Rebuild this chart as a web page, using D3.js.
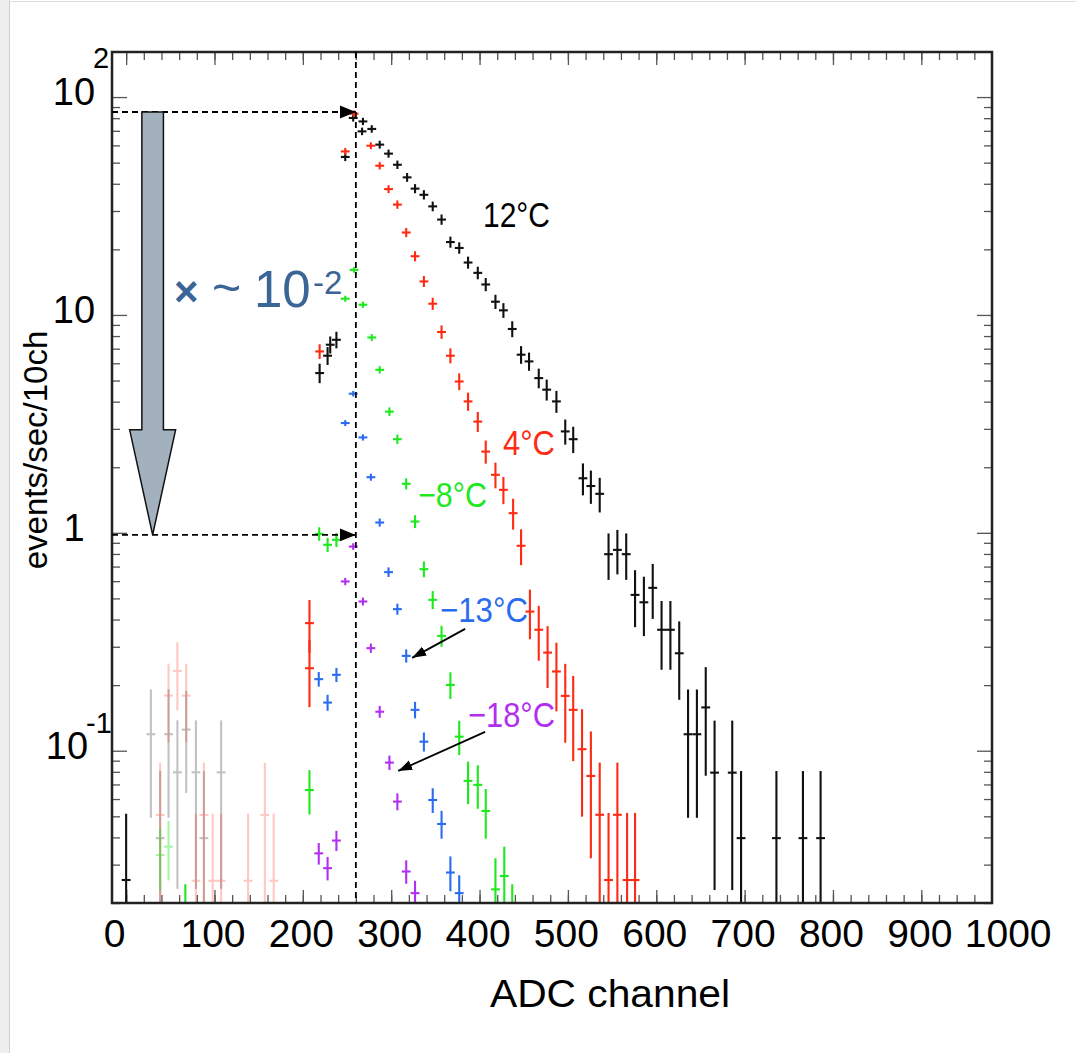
<!DOCTYPE html>
<html>
<head>
<meta charset="utf-8">
<script src="https://cdn.jsdelivr.net/npm/d3@7"></script>
<style>
  body { margin: 0; background: #fff; }
  svg { display: block; }
  text { font-family: "Liberation Sans", Arial, Helvetica, sans-serif; }
</style>
</head>
<body>
<svg width="1076" height="1053"></svg>
<script>
// each point: [ADC channel, events/sec/10ch, error]
var t12 = [
  [0, 0.0255, 0.025], [219, 5.41, 0.47], [228, 6.50, 0.51], [231, 7.30, 0.54], [238, 7.69, 0.55],
  [248, 53.1, 1.46], [257, 80.2, 1.79], [267, 69.6, 1.67], [268, 77.3, 1.76], [278, 71.4, 1.69],
  [287, 60.5, 1.56], [297, 55.0, 1.48], [307, 48.9, 1.40], [318, 42.8, 1.31], [327, 38.0, 1.23],
  [337, 35.6, 1.19], [347, 31.5, 1.12], [357, 27.4, 1.05], [367, 21.6, 0.93], [377, 20.3, 0.90],
  [387, 17.4, 0.83], [398, 15.6, 0.79], [407, 13.8, 0.74], [418, 11.5, 0.68], [427, 10.5, 0.65],
  [437, 8.62, 0.59], [447, 6.57, 0.51], [456, 6.12, 0.49], [467, 5.13, 0.45], [476, 4.54, 0.43],
  [487, 4.01, 0.40], [497, 2.92, 0.34], [506, 2.69, 0.33], [517, 1.78, 0.27], [526, 1.64, 0.26],
  [536, 1.51, 0.25], [546, 0.798, 0.18], [556, 0.835, 0.18], [566, 0.798, 0.18], [576, 0.519, 0.144],
  [586, 0.480, 0.139], [596, 0.559, 0.15], [606, 0.359, 0.12], [616, 0.359, 0.12], [626, 0.280, 0.106],
  [636, 0.119, 0.069], [646, 0.119, 0.069], [656, 0.158, 0.08], [666, 0.0793, 0.056], [686, 0.0793, 0.056],
  [696, 0.0397, 0.0397], [736, 0.0397, 0.0397], [766, 0.0397, 0.0397], [786, 0.0397, 0.0397]
];
var t4 = [
  [207.5, 0.385, 0.099], [207.5, 0.239, 0.078], [219, 6.80, 0.42], [248, 56.3, 1.20], [258, 83.9, 1.47],
  [277, 59.8, 1.24], [287, 48.4, 1.11], [297, 37.8, 0.98], [307, 32.1, 0.91], [317, 23.9, 0.78],
  [327, 18.6, 0.69], [337, 14.25, 0.60], [347, 11.26, 0.54], [357, 8.35, 0.46], [367, 6.50, 0.41],
  [377, 4.95, 0.36], [387, 4.01, 0.32], [398, 3.24, 0.29], [407, 2.36, 0.25], [418, 1.846, 0.22],
  [427, 1.575, 0.20], [438, 1.231, 0.18], [447, 0.872, 0.15], [457, 0.435, 0.105], [467, 0.359, 0.096],
  [477, 0.282, 0.085], [487, 0.231, 0.077], [497, 0.1785, 0.068], [506, 0.154, 0.063], [516, 0.1016, 0.051],
  [526, 0.0766, 0.044], [536, 0.0508, 0.036], [546, 0.0255, 0.0255], [556, 0.0508, 0.036],
  [567, 0.0255, 0.0255], [576, 0.0255, 0.0255]
];
var tm8 = [
  [67, 0.017, 0.007], [207.5, 0.066, 0.0142], [218.5, 0.989, 0.055], [228, 0.881, 0.052], [238, 0.929, 0.054],
  [248, 11.87, 0.19], [258, 16.1, 0.22], [268, 11.14, 0.19], [278, 7.88, 0.16], [287, 5.60, 0.13],
  [298, 3.60, 0.106], [307, 2.69, 0.091], [317, 1.679, 0.072], [327, 1.127, 0.059], [337, 0.681, 0.046],
  [347, 0.4925, 0.039], [357, 0.3366, 0.032], [367, 0.2004, 0.025], [377, 0.116, 0.019], [387, 0.0727, 0.015],
  [398, 0.0697, 0.0147], [407, 0.0529, 0.0128], [418, 0.0231, 0.0085], [428, 0.0266, 0.0091], [437, 0.017, 0.007]
];
var tm13 = [
  [218, 0.213, 0.013], [228, 0.1663, 0.0114], [238, 0.223, 0.0132], [248, 3.19, 0.05], [257, 4.35, 0.058],
  [268, 2.74, 0.046], [277, 1.80, 0.038], [287, 1.115, 0.030], [297, 0.660, 0.023], [307, 0.4464, 0.019],
  [317, 0.2724, 0.0146], [327, 0.154, 0.011], [337, 0.110, 0.0093], [347, 0.0594, 0.0068], [357, 0.0461, 0.006],
  [367, 0.0276, 0.0046], [377, 0.0222, 0.0042]
];
var tm18 = [
  [218, 0.0338, 0.0033], [228, 0.0289, 0.0031], [238, 0.0387, 0.0035], [248, 0.598, 0.014], [257, 0.865, 0.017],
  [268, 0.484, 0.0125], [277, 0.2955, 0.0098], [287, 0.151, 0.007], [298, 0.0882, 0.0053], [307, 0.0584, 0.0043],
  [317, 0.0279, 0.003], [327, 0.0222, 0.0027]
];
// faded overlapping points at low channels
var fadedBlack = [
  [28, 0.119, 0.069], [38.5, 0.0397, 0.0397], [48, 0.119, 0.069], [58, 0.0796, 0.056], [68, 0.125, 0.06],
  [79, 0.0796, 0.056], [88, 0.0397, 0.0397], [107.5, 0.0796, 0.056]
];
var fadedRed = [
  [38.5, 0.0507, 0.036], [48, 0.179, 0.068], [58, 0.2325, 0.077], [68, 0.179, 0.068], [79, 0.0253, 0.0253],
  [88, 0.0507, 0.036], [98, 0.0253, 0.0253], [107.5, 0.0253, 0.0253], [138, 0.0253, 0.0253],
  [157, 0.0507, 0.036], [167, 0.0253, 0.0253]
];
var fadedGreen = [[38.5, 0.0332, 0.010], [48, 0.0363, 0.0105]];

var seriesNames = ["12°C", "4°C", "−8°C", "−13°C", "−18°C"];
var seriesColors = ["#111111", "#ff2a12", "#1ee81e", "#2a6cf0", "#b22ff0"];
var xTickLabels = [0, 100, 200, 300, 400, 500, 600, 700, 800, 900, 1000];
var yTickVals = [100, 10, 1, 0.1];
var yTickBase = ["10", "10", "1", "10"];
var yTickSup = ["2", "", "", "-1"];
var thresholdCh = 260;      // dashed vertical line
var levelHigh = 85.4;       // upper dashed level
var levelLow = 0.978;       // lower dashed level

var svg = d3.select("svg");
var pL = 112, pR = 992, pT = 52, pB = 903;

var x = d3.scaleLinear().domain([-16, 980]).range([pL, pR]);
var y = d3.scaleLog().domain([0.02, 161]).range([pB, pT]);

// page edge like the slide
svg.append("rect").attr("x", 0).attr("y", 0).attr("width", 9).attr("height", 1053).attr("fill", "#eeeeee");
svg.append("line").attr("x1", 9.5).attr("x2", 9.5).attr("y1", 0).attr("y2", 1053).attr("stroke", "#cfcfcf");
svg.append("line").attr("x1", 9).attr("x2", 1076).attr("y1", 1.5).attr("y2", 1.5).attr("stroke", "#dddddd");

var defs = svg.append("defs");
defs.append("clipPath").attr("id", "plot")
  .append("rect").attr("x", pL).attr("y", pT).attr("width", pR - pL).attr("height", pB - pT);
defs.append("marker").attr("id", "tri").attr("markerUnits", "userSpaceOnUse")
  .attr("markerWidth", 18).attr("markerHeight", 14).attr("refX", 16).attr("refY", 6.5).attr("orient", "auto")
  .append("path").attr("d", "M0,0 L16,6.5 L0,13 Z").attr("fill", "#000");
defs.append("marker").attr("id", "tri2").attr("markerUnits", "userSpaceOnUse")
  .attr("markerWidth", 16).attr("markerHeight", 12).attr("refX", 14).attr("refY", 5).attr("orient", "auto")
  .append("path").attr("d", "M0,0 L14,5 L0,10 Z").attr("fill", "#000");

// ticks (inside, on all four sides)
var minorX = d3.range(0, 980, 20);
var majorX = d3.range(0, 980, 100);
var minorY = [];
[0.01, 0.1, 1, 10].forEach(function(d) { for (var k = 2; k <= 9; k++) { if (d * k >= 0.02 && d * k <= 161) minorY.push(d * k); } });

function tickAxis(axis, tx, ty) {
  var g = svg.append("g").attr("transform", "translate(" + tx + "," + ty + ")").call(axis);
  g.select(".domain").remove();
  g.selectAll("line").attr("stroke", "#555").attr("stroke-width", 1.3);
  return g;
}
tickAxis(d3.axisBottom(x).tickValues(minorX).tickSize(-8).tickFormat(""), 0, pB);
tickAxis(d3.axisBottom(x).tickValues(majorX).tickSize(-13).tickFormat(""), 0, pB);
tickAxis(d3.axisTop(x).tickValues(minorX).tickSize(-8).tickFormat(""), 0, pT);
tickAxis(d3.axisTop(x).tickValues(majorX).tickSize(-13).tickFormat(""), 0, pT);
tickAxis(d3.axisLeft(y).tickValues(minorY).tickSize(-8).tickFormat(""), pL, 0);
tickAxis(d3.axisLeft(y).tickValues(yTickVals).tickSize(-15).tickFormat(""), pL, 0);
tickAxis(d3.axisRight(y).tickValues(minorY).tickSize(-8).tickFormat(""), pR, 0);
tickAxis(d3.axisRight(y).tickValues(yTickVals).tickSize(-15).tickFormat(""), pR, 0);

// x tick labels
var xl = svg.append("g").attr("transform", "translate(0," + pB + ")")
  .call(d3.axisBottom(x).tickValues(xTickLabels).tickSize(0).tickPadding(16).tickFormat(d3.format("d")));
xl.select(".domain").remove();
xl.selectAll("text").attr("font-size", 39).attr("fill", "#000").attr("font-family", "Liberation Sans, Arial, sans-serif")
  .attr("dx", function(d) { return d === 0 ? -12 : -2; });

// y tick labels
var ylab = svg.append("g");
yTickVals.forEach(function(v, i) {
  var hasSup = yTickSup[i] !== "";
  var cx = yTickSup[i] === "-1" ? 67 : 74;
  ylab.append("text").attr("x", cx).attr("y", y(v) + 8).attr("text-anchor", "middle")
    .attr("font-size", 38).text(yTickBase[i]);
  if (hasSup) {
    ylab.append("text").attr("x", yTickSup[i] === "-1" ? 86 : 93)
      .attr("y", yTickSup[i] === "-1" ? y(v) - 18 : y(v) - 29)
      .attr("font-size", 29).text(yTickSup[i]);
  }
});

// axis titles
svg.append("text").attr("x", 610).attr("y", 1007).attr("text-anchor", "middle")
  .attr("font-size", 38).attr("textLength", 240).attr("lengthAdjust", "spacingAndGlyphs").text("ADC channel");
svg.append("text").attr("transform", "translate(47,450) rotate(-90)").attr("text-anchor", "middle")
  .attr("font-size", 33).text("events/sec/10ch");

// data crosses
var plot = svg.append("g").attr("clip-path", "url(#plot)");
function drawSeries(data, color, opacity) {
  var g = plot.append("g").attr("stroke", color).attr("stroke-width", 2.1).attr("opacity", opacity);
  g.selectAll("line.v").data(data).join("line").attr("class", "v")
    .attr("x1", function(d) { return x(d[0]); }).attr("x2", function(d) { return x(d[0]); })
    .attr("y1", function(d) { return y(d[1] + d[2]) - 1.5; })
    .attr("y2", function(d) { return d[1] - d[2] > 1e-4 ? y(d[1] - d[2]) + 1.5 : pB + 10; });
  g.selectAll("line.h").data(data).join("line").attr("class", "h")
    .attr("x1", function(d) { return x(d[0] - 5); }).attr("x2", function(d) { return x(d[0] + 5); })
    .attr("y1", function(d) { return y(d[1]); }).attr("y2", function(d) { return y(d[1]); });
}
drawSeries(fadedBlack, "#111111", 0.25);
drawSeries(fadedRed, "#ff2a12", 0.25);
drawSeries(fadedGreen, "#1ee81e", 0.4);
[t12, t4, tm8, tm13, tm18].forEach(function(s, i) { drawSeries(s, seriesColors[i], 1); });

// frame
svg.append("rect").attr("x", pL).attr("y", pT).attr("width", pR - pL).attr("height", pB - pT)
  .attr("fill", "none").attr("stroke", "#222").attr("stroke-width", 2.5);

// dashed guide lines
svg.append("line").attr("x1", x(thresholdCh)).attr("x2", x(thresholdCh)).attr("y1", pT).attr("y2", pB)
  .attr("stroke", "#000").attr("stroke-width", 1.8).attr("stroke-dasharray", "6,4");
[levelHigh, levelLow].forEach(function(v) {
  svg.append("line").attr("x1", pL).attr("x2", x(thresholdCh)).attr("y1", y(v)).attr("y2", y(v))
    .attr("stroke", "#000").attr("stroke-width", 1.8).attr("stroke-dasharray", "6,4")
    .attr("marker-end", "url(#tri)");
});

// big gray arrow
var ac = 30, shaftHalf = 12.2, headHalf = 26, headStart = 2.97;
var arrowPts = [
  [x(ac - shaftHalf), y(levelHigh)], [x(ac + shaftHalf), y(levelHigh)], [x(ac + shaftHalf), y(headStart)],
  [x(ac + headHalf), y(headStart)], [x(ac), y(levelLow)], [x(ac - headHalf), y(headStart)],
  [x(ac - shaftHalf), y(headStart)]
];
svg.append("path").attr("d", "M" + arrowPts.join("L") + "Z")
  .attr("fill", "#a3b0be").attr("stroke", "#111").attr("stroke-width", 1.5);

// "× ~10^-2"
var blueText = "#3a6596";
svg.append("text").attr("x", 174).attr("y", 306).attr("font-size", 42).attr("font-weight", "bold")
  .attr("fill", blueText).text("×");
svg.append("text").attr("x", 212).attr("y", 305).attr("font-size", 50).attr("fill", blueText).text("~");
svg.append("text").attr("x", 254).attr("y", 307).attr("font-size", 51).attr("fill", blueText).text("10");
svg.append("text").attr("x", 313).attr("y", 294).attr("font-size", 33).attr("fill", blueText).text("-2");

// temperature labels
var labelPos = [[483, 227, 67], [503, 455, 52], [418, 507, 69], [440, 622, 88], [468, 727, 87]];
seriesNames.forEach(function(n, i) {
  svg.append("text").attr("x", labelPos[i][0]).attr("y", labelPos[i][1]).attr("font-size", 35)
    .attr("textLength", labelPos[i][2]).attr("lengthAdjust", "spacingAndGlyphs")
    .attr("fill", i === 0 ? "#000" : seriesColors[i]).text(n);
});

// pointer arrows to the -13 and -18 series
[[383.7, 0.3624, 323.7, 0.2668], [406.3, 0.122, 307.9, 0.0808]].forEach(function(a) {
  svg.append("line").attr("x1", x(a[0])).attr("y1", y(a[1])).attr("x2", x(a[2])).attr("y2", y(a[3]))
    .attr("stroke", "#000").attr("stroke-width", 1.8).attr("marker-end", "url(#tri2)");
});
</script>
</body>
</html>
